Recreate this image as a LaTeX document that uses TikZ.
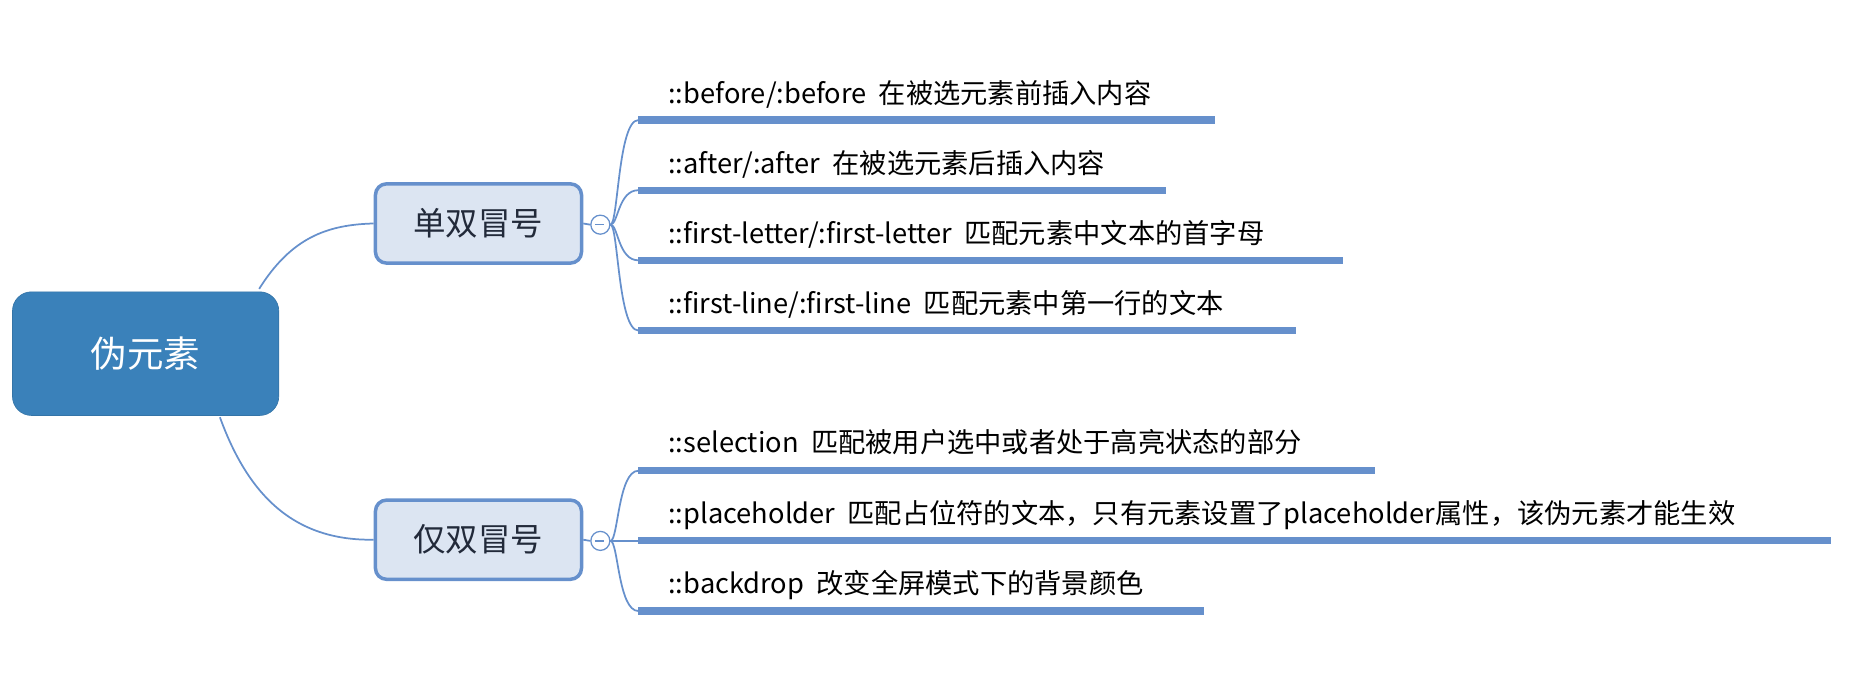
\documentclass[tikz,border=0pt]{standalone}
\usepackage{fontspec}
\setmainfont{Noto Sans CJK SC}
\definecolor{cmain}{HTML}{3A81BA}
\definecolor{csubf}{HTML}{DCE5F2}
\definecolor{cline}{HTML}{6690CC}
\definecolor{ctext}{HTML}{222A3A}
\begin{document}
\begin{tikzpicture}[x=0.75pt,y=-0.75pt,
  mainbox/.style={draw=cmain!90!black,fill=cmain,rounded corners=12pt,text=white,minimum width=168pt,minimum height=78pt,font=\fontsize{23}{27}\selectfont,inner sep=0pt},
  subbox/.style={draw=cline,line width=2.2pt,fill=csubf,rounded corners=7pt,text=ctext,minimum width=130pt,minimum height=50pt,font=\fontsize{20.5}{24}\selectfont,inner sep=0pt},
  tog/.style={circle,draw=cline,fill=white,line width=0.8pt,minimum size=12pt,inner sep=0pt},
  leaf/.style={anchor=base west,inner sep=0pt,font=\fontsize{17.2}{20}\selectfont},
  uline/.style={cline,line width=4.5pt},
  conn/.style={cline,line width=1.1pt}]
\useasboundingbox (0,0) rectangle (1568,584);
\node[mainbox] (root) at (122.5,297.5) {伪元素};
\node[subbox] (s1) at (402.5,188) {单双冒号};
\node[subbox] (s2) at (402.5,454) {仅双冒号};
\node[tog] (t1) at (505,189) {};
\node[tog] (t2) at (505,455) {};
\draw[cline,line width=1pt] (t1.west)++(4,0) -- ++(8,0);
\draw[cline,line width=1pt] (t2.west)++(4,0) -- ++(8,0);
\draw[conn] (218,243) .. controls (245,200) and (275,189) .. (s1.west);
\draw[conn] (185,351) .. controls (210,420) and (250,455) .. (s2.west);
\draw[conn] (s1.east) -- (t1.west);
\draw[conn] (s2.east) -- (t2.west);
\foreach \y/\e/\n in {101/1022/a1,160/981/a2,219/1130/a3,278/1090/a4}{
  \coordinate (\n s) at (537,\y);
  \coordinate (\n e) at (\e,\y);
  \draw[uline] (\n s) -- (\n e);
  \draw[conn] (t1.east) .. controls (520,189) and (520,\y) .. (\n s);
}
\foreach \y/\e/\n in {396/1157/b1,455/1540/b2,514/1013/b3}{
  \coordinate (\n s) at (537,\y);
  \coordinate (\n e) at (\e,\y);
  \draw[uline] (\n s) -- (\n e);
  \draw[conn] (t2.east) .. controls (520,455) and (520,\y) .. (\n s);
}
\node[leaf] (l1) at (562,87) {::before/:before\ \ 在被选元素前插入内容};
\node[leaf] (l2) at (562,146) {::after/:after\ \ 在被选元素后插入内容};
\node[leaf] (l3) at (562,205) {::first-letter/:first-letter\ \ 匹配元素中文本的首字母};
\node[leaf] (l4) at (562,264) {::first-line/:first-line\ \ 匹配元素中第一行的文本};
\node[leaf] (l5) at (562,381) {::selection\ \ 匹配被用户选中或者处于高亮状态的部分};
\node[leaf] (l6) at (562,440) {::placeholder\ \ 匹配占位符的文本，只有元素设置了placeholder属性，该伪元素才能生效};
\node[leaf] (l7) at (562,499) {::backdrop\ \ 改变全屏模式下的背景颜色};
\end{tikzpicture}
\end{document}
